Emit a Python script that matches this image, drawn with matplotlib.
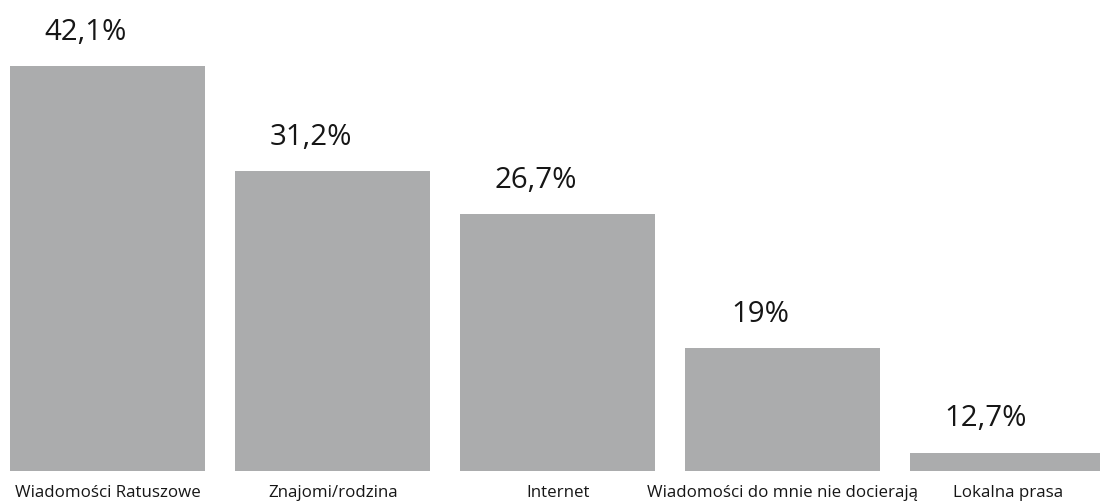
import matplotlib
matplotlib.use('Agg')
import matplotlib.pyplot as plt

# categories and numbers as printed on the chart
categories = ['Wiadomości Ratuszowe', 'Znajomi/rodzina', 'Internet',
              'Wiadomości do mnie nie docierają', 'Lokalna prasa']
value_labels = ['42,1%', '31,2%', '26,7%', '19%', '12,7%']
# bar heights as drawn in the picture (last two are drawn shorter than labelled)
bar_heights = [42.1, 31.2, 26.7, 12.8, 1.9]

bar_color = '#abacad'
text_color = '#161616'
plt.rcParams['font.family'] = ['Open Sans', 'DejaVu Sans']

fig = plt.figure(figsize=(11, 5.03), dpi=100)
ax = fig.add_axes([0, 0, 1, 1])

x = list(range(len(categories)))
ax.bar(x, bar_heights, width=0.867, color=bar_color)

for i, (h, lab) in enumerate(zip(bar_heights, value_labels)):
  ax.text(i - 0.1, h + 2.0, lab, ha='center', va='bottom',
          fontsize=21.2, color=text_color)
  ax.text(i, -2.3, categories[i], ha='center', va='center',
          fontsize=12.2, color=text_color)

ax.set_xlim(-0.48, 4.41)
ax.set_ylim(-3.33, 48.96)
ax.axis('off')

plt.savefig('out.png', dpi=100)
